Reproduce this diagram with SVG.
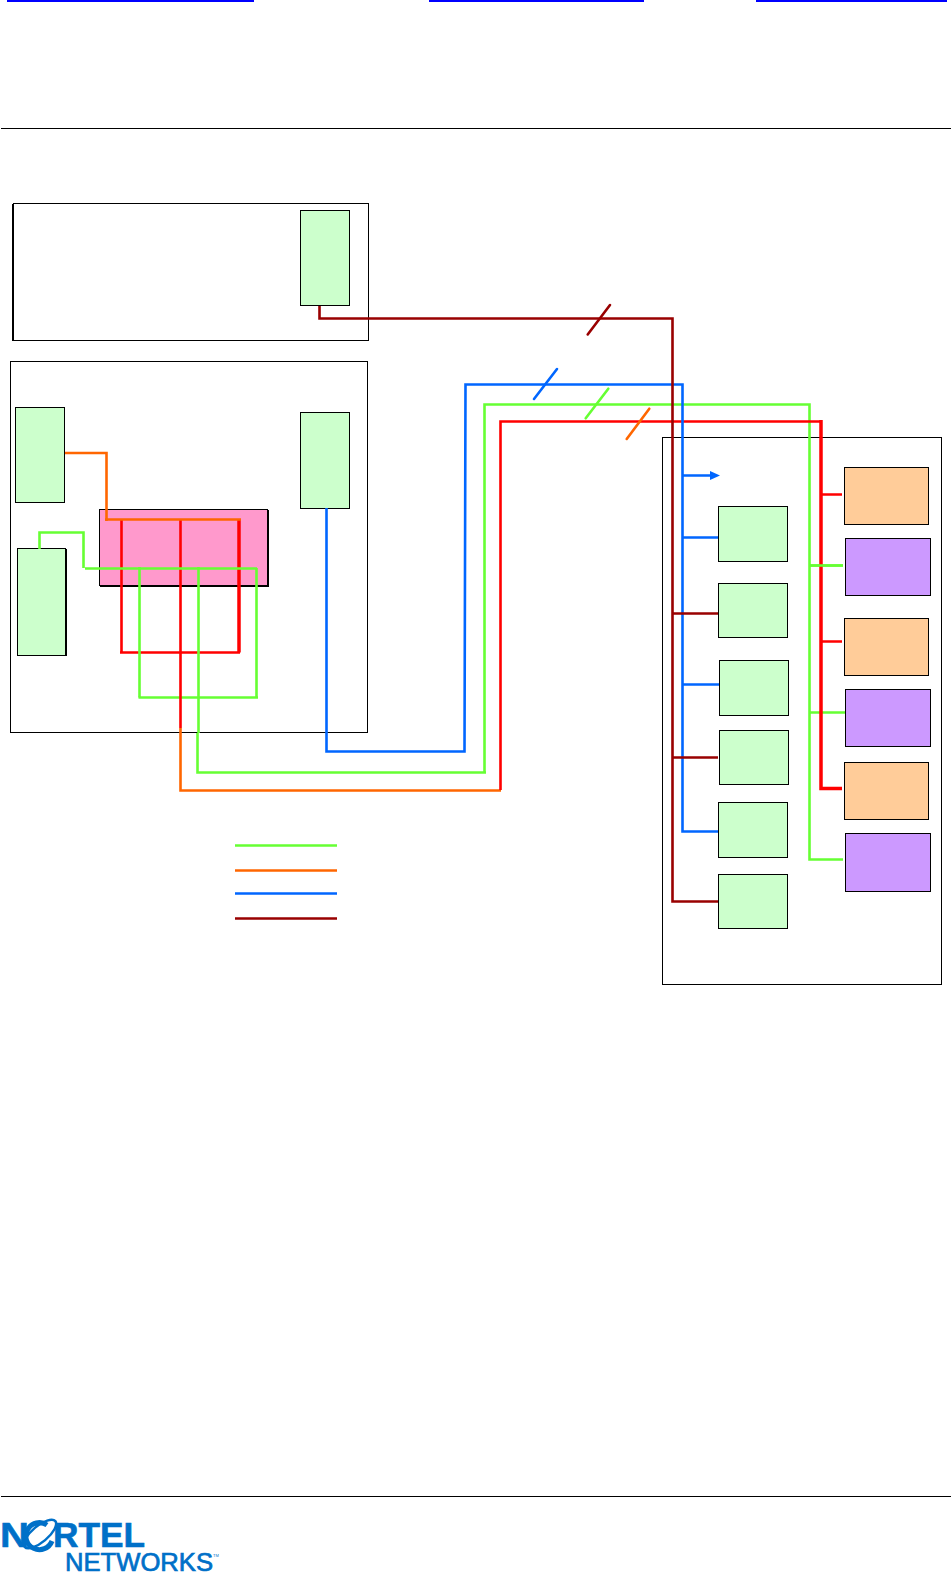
<svg xmlns="http://www.w3.org/2000/svg" width="952" height="1574" viewBox="0 0 952 1574">
<style>
.box{fill:#fff;stroke:#000;stroke-width:1}
.g{fill:#ccffcc;stroke:#000;stroke-width:1}
.o{fill:#ffcc99;stroke:#000;stroke-width:1}
.p{fill:#cc99ff;stroke:#000;stroke-width:1}
.k{fill:#ff99cc;stroke:#000;stroke-width:1}
.l{fill:none;stroke-width:2.600;stroke-linejoin:miter}
.lg{stroke:#66ff33}.lo{stroke:#ff6600}.lb{stroke:#0066ff}.ld{stroke:#990000}.lr{stroke:#ff0000}
.s{fill:none;stroke-width:2.600;stroke-linecap:round}
.logo{fill:#0070c8;font-family:"Liberation Sans",Arial,sans-serif;font-weight:700}
</style>
<rect width="952" height="1574" fill="#fff"/>
<g id="header">
<rect x="7" y="0" width="247" height="2" fill="#0000ff"/>
<rect x="429" y="0" width="215" height="2" fill="#0000ff"/>
<rect x="756" y="0" width="191" height="2" fill="#0000ff"/>
<rect x="1" y="128" width="950" height="1" fill="#000"/>
<rect x="1" y="1496" width="950" height="1" fill="#000"/>
</g>
<g id="frame-top"><rect class="box" x="13.500" y="203.500" width="355" height="137"/><rect x="12" y="204" width="2" height="137" fill="#000"/></g>
<g id="frame-left"><rect class="box" x="10.500" y="361.500" width="357" height="371"/></g>
<g id="frame-right"><rect class="box" x="662.500" y="437.500" width="279" height="547"/></g>
<g id="node-t1"><rect class="g" x="300.500" y="210.500" width="49" height="95"/></g>
<g id="node-l1"><rect class="g" x="15.500" y="407.500" width="49" height="95"/></g>
<g id="node-l2"><rect x="18" y="549" width="49" height="107" fill="#000"/><rect class="g" x="17.500" y="548.500" width="48" height="107"/></g>
<g id="node-l3"><rect class="g" x="300.500" y="412.500" width="49" height="96"/></g>
<g id="node-pink"><rect x="100" y="510" width="169" height="77" fill="#000"/><rect class="k" x="99.500" y="509.500" width="168" height="76"/></g>
<g id="node-r1"><rect class="g" x="718.500" y="506.500" width="69" height="55"/></g>
<g id="node-r2"><rect class="g" x="718.500" y="583.500" width="69" height="54"/></g>
<g id="node-r3"><rect class="g" x="719.500" y="660.500" width="69" height="55"/></g>
<g id="node-r4"><rect class="g" x="719.500" y="730.500" width="69" height="54"/></g>
<g id="node-r5"><rect class="g" x="718.500" y="802.500" width="69" height="55"/></g>
<g id="node-r6"><rect class="g" x="718.500" y="874.500" width="69" height="54"/></g>
<g id="node-o1"><rect class="o" x="844.500" y="467.500" width="84" height="57"/></g>
<g id="node-p1"><rect class="p" x="845.500" y="538.500" width="85" height="57"/></g>
<g id="node-o2"><rect class="o" x="844.500" y="618.500" width="84" height="57"/></g>
<g id="node-p2"><rect class="p" x="845.500" y="689.500" width="85" height="57"/></g>
<g id="node-o3"><rect class="o" x="844.500" y="762.500" width="84" height="57"/></g>
<g id="node-p3"><rect class="p" x="845.500" y="833.500" width="85" height="58"/></g>
<g id="connectors">
<path class="l lg" d="M138.500 697.500H258"/>
<path class="l lr" d="M121.500 520V652.500M180.500 520V728M120 652.500H240"/>
<path class="l lr" style="stroke-width:3.500" d="M239 520V652.500"/>
<path class="l lo" d="M65 453H106.500V521M105 519.500H241"/>
<path class="l lg" d="M39.500 549V532.500H83.500V568M85 568.500H257M139.500 567V697.500M198.500 567V733M256.500 568V698"/>
<path class="l lo" d="M180.500 728V790.500H501"/>
<path class="l lg" d="M197.500 733V772.500H486"/>
<path class="l lg" d="M484.500 772V404.500H809.500V859.500H843M810 565.500H843M810 712.500H845"/>
<path class="l lr" d="M500.500 790V421.500H821"/>
<path class="l lr" style="stroke-width:3.500" d="M821 420V788.500H842"/>
<path class="l lr" d="M822 494.500H842M822 641.500H842"/>
<path class="l lg" d="M810 565.500H843"/>
<path class="l lb" d="M326.500 508V751.500H464.500L465.500 384.500H682.500V831.500H718M683 475.500H711M683 537.500H718M683 684.500H719"/>
<polygon points="710,471 720,475.500 710,480" fill="#0066ff"/>
<path class="l ld" d="M319.500 306V318.500H672.500V901.500H718M672 613.500H718M672 757.500H718"/>
<path class="s ld" d="M587.700 334.500L610 305"/>
<path class="s lb" d="M534 399L557 369"/>
<path class="s lg" d="M585.700 418.300L608.300 388.700"/>
<path class="s lo" d="M626.700 439L649.300 408.700"/>
<path class="l lg" d="M235 845.500H337"/>
<path class="l lo" d="M235 870.500H337"/>
<path class="l lb" d="M235 893.500H337"/>
<path class="l ld" d="M235 918.500H337"/>
</g>
<g id="logo">
<text class="logo" x="0" y="1547" font-size="35" stroke="#0070c8" stroke-width=".6" textLength="29" lengthAdjust="spacingAndGlyphs">N</text>
<g fill="none" stroke="#0070c8">
<path d="M47 1525A13.500 13.500 0 1 0 52 1541" stroke-width="5"/>
<ellipse cx="40" cy="1534" rx="20" ry="8" transform="rotate(-40 40 1534)" stroke-width="2.500"/>
</g>
<text class="logo" x="53" y="1547" font-size="35" stroke="#0070c8" stroke-width=".6" textLength="92" lengthAdjust="spacingAndGlyphs">RTEL</text>
<text class="logo" x="65" y="1571" font-size="25" stroke="#0070c8" stroke-width=".7" style="font-weight:400" textLength="148" lengthAdjust="spacingAndGlyphs">NETWORKS</text>
<text class="logo" x="213" y="1557" font-size="4" style="font-weight:400">TM</text>
</g>
</svg>
